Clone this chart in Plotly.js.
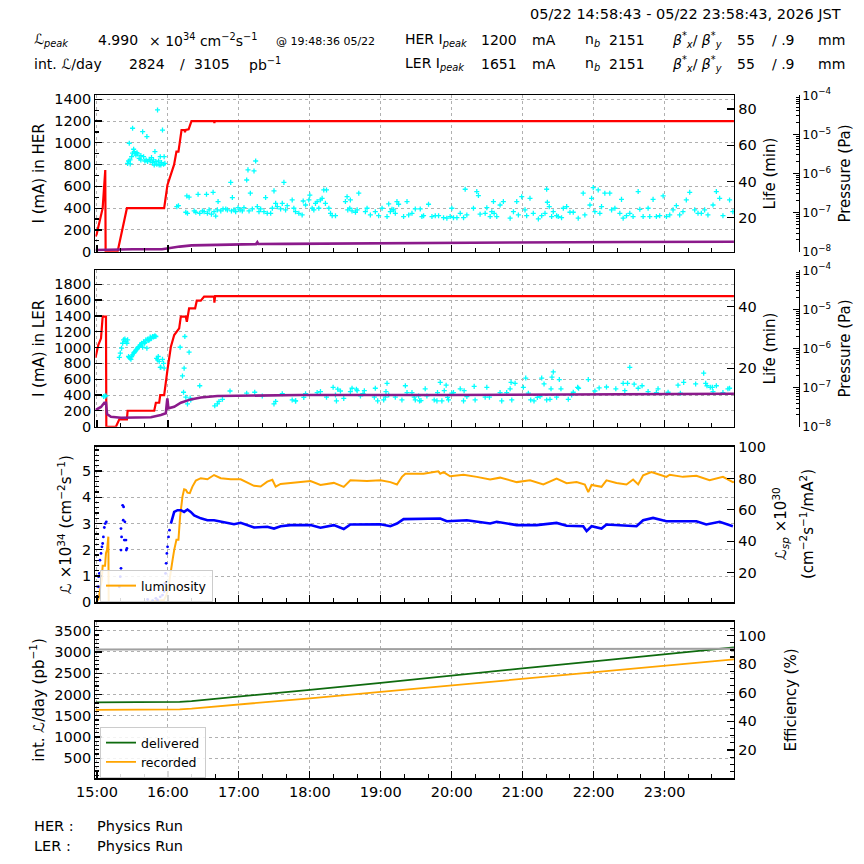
<!DOCTYPE html>
<html>
<head>
<meta charset="utf-8">
<script src="https://cdn.plot.ly/plotly-3.0.1.min.js"></script>
<style>
  html, body { margin: 0; padding: 0; background: #fff; }
  #chart { width: 864px; height: 864px; }
</style>
</head>
<body>
<div id="chart"></div>
<script>
// ---- data: [minutes after 15:00, value] ----
const herCurrent = [[-1.3,140],[-0.3,160],[4.8,400],[7.0,750],[7.3,0],[17.4,0],[25.3,400],[40,401],[56.8,400],[59.6,613],[65.2,800],[67.2,920],[68.9,920],[71.5,1118],[74.0,1118],[74.4,1098],[75.0,1118],[77.5,1125],[79.9,1200],[99.0,1200],[99.3,1182],[99.6,1200],[200,1199],[300,1200],[400,1199],[538.7,1200]];

const herPressure = [[-1.3,1.10e-8],[10,1.12e-8],[30,1.15e-8],[55,1.15e-8],[62,1.25e-8],[70,1.35e-8],[80,1.45e-8],[100,1.50e-8],[120,1.55e-8],[134.5,1.56e-8],[135.6,1.75e-8],[136.5,1.57e-8],[160,1.58e-8],[250,1.66e-8],[350,1.72e-8],[450,1.77e-8],[538.7,1.80e-8]];

const herLife = [[25.9,50.0],[26.7,51.3],[27.3,61.1],[27.9,51.9],[28.1,49.7],[29.3,53.7],[30.1,69.4],[30.1,55.6],[31.0,57.8],[31.5,56.5],[32.1,55.6],[32.9,54.6],[33.8,55.9],[34.3,55.2],[35.7,52.8],[37.1,51.9],[37.1,54.3],[38.6,67.5],[39.4,53.7],[40.5,51.3],[41.6,51.9],[42.2,64.8],[42.8,51.0],[44.2,52.2],[45.0,51.3],[46.1,53.2],[47.0,50.4],[47.8,51.9],[48.4,49.1],[49.0,56.5],[49.8,51.0],[50.6,49.5],[51.2,79.5],[52.1,51.3],[52.6,49.1],[53.5,53.7],[54.0,49.1],[54.6,50.4],[55.4,68.4],[56.3,49.5],[56.8,53.7],[57.4,50.0],
[67.5,26.1],[68.9,26.6],[75.1,23.0],[76.0,32.0],[76.5,22.4],[77.9,31.3],[82.2,23.7],[83.6,23.0],[85.5,32.9],[86.9,22.4],[89.2,23.7],[90.6,23.3],[92.6,32.9],[93.4,22.4],[94.8,24.3],[96.8,21.9],[98.2,34.0],[99.0,23.3],[100.4,20.9],[101.8,24.3],[102.4,28.9],[104.7,23.7],[106.6,24.8],[108.9,24.8],[110.3,24.3],[113.1,39.5],[113.7,23.7],[114.5,31.1],[115.9,24.3],[117.3,23.3],[119.3,25.5],[121.0,24.3],[122.9,23.7],[124.3,25.5],[126.6,40.8],[127.7,46.4],[128.6,23.7],[129.7,33.5],[131.4,24.8],[132.8,45.8],[134.2,51.3],[135.6,26.1],[137.0,23.3],[138.4,24.8],[141.2,23.3],[142.6,31.1],[144.0,22.4],[146.9,22.4],[148.3,25.2],[149.7,34.8],[151.1,27.9],[152.5,26.1],[155.3,24.8],[156.7,27.9],[158.1,39.5],[159.5,24.3],[160.9,26.6],
[165.1,29.8],[166.5,25.2],[167.9,23.3],[170.7,22.4],[173.5,21.5],[174.4,29.2],[176.4,27.0],[179.2,29.8],[180.0,32.5],[182.0,25.2],[183.4,24.3],[184.8,27.9],[186.2,28.9],[187.6,25.2],[189.0,29.8],[190.4,30.7],[191.8,35.3],[194.1,35.3],[193.2,27.9],[196.1,25.2],[197.5,22.4],[198.9,21.1],[201.7,21.1],[210.1,28.9],[211.5,31.6],[212.1,24.3],[213.8,25.2],[214.3,29.8],[215.7,23.7],[218.6,23.0],[220.0,24.3],[221.4,33.5],[227.0,23.3],[228.4,25.2],[231.2,21.5],[235.4,23.3],[238.2,21.1],[241.1,25.2],[245.3,20.6],[246.7,27.6],[248.1,23.3],[249.5,24.6],[250.9,24.3],[252.3,22.4],[253.7,28.9],[255.1,27.4],[259.3,20.6],[262.2,28.9],[263.6,21.5],[266.4,22.4],[269.2,24.8],[273.4,24.8],[274.8,20.6],[276.2,21.1],[280.4,27.4],[283.3,20.6],[286.1,21.1],[288.9,21.1],[293.1,20.0],[295.9,19.7],[298.7,20.6],[300.1,25.2],[301.5,20.0],[304.4,20.0],[307.2,22.4],[310.0,20.0],[311.4,35.7],[312.8,21.5],[318.4,25.2],[321.2,34.4],[322.6,32.2],[324.0,21.9],[328.3,22.4],[329.7,25.5],[332.5,20.6],[333.9,23.3],[335.3,28.9],[335.9,22.4],[338.1,20.6],[340.9,27.0],[343.7,28.9],[349.4,19.7],[352.2,23.3],[355.0,28.9],[356.4,21.5],[359.2,31.6],[362.0,24.3],[363.4,21.1],[366.2,30.7],[369.0,22.4],[373.3,19.3],[376.1,21.1],[378.9,22.4],[380.3,35.7],[380.9,28.5],[382.5,26.1],[384.5,20.6],[385.9,23.3],[388.7,21.1],[390.1,20.6],[392.9,20.0],[394.4,25.2],[397.2,26.1],[400.0,23.0],[402.8,23.0],[407.0,19.7],[411.2,33.5],[412.6,21.5],[416.9,27.0],[418.3,30.7],[419.7,36.6],[421.1,23.3],[423.9,35.3],[425.3,22.4],[426.7,26.1],[429.5,33.5],[433.7,33.5],[435.2,24.3],[438.0,25.2],[442.2,22.4],[443.6,30.1],[445.0,19.7],[447.8,21.1],[450.6,22.4],[453.4,20.6],[457.7,34.4],[459.1,24.6],[461.9,20.6],[466.1,25.2],[467.5,20.6],[470.3,30.1],[473.1,20.6],[475.9,21.1],[478.8,32.0],[481.6,20.6],[484.4,21.5],[487.2,24.3],[490.0,26.6],[492.8,21.5],[495.6,23.3],[498.4,29.8],[501.3,34.0],[505.5,24.3],[508.3,22.4],[511.1,22.4],[513.9,24.3],[516.7,21.5],[521.0,27.0],[523.8,34.4],[526.6,30.7],[529.4,21.1],[535.0,29.8],[537.8,23.3]];

const lerCurrent = [[-1.3,870],[1.1,1033],[3.4,1117],[4.8,1390],[7.6,1390],[7.9,0],[16.0,0],[18.9,93],[25.3,93],[25.9,202],[48.4,202],[49.8,303],[52.6,303],[53.5,400],[56.8,400],[58.5,560],[59.6,717],[62.5,1011],[65.3,1159],[69.5,1243],[70.9,1390],[75.1,1390],[76.0,1327],[77.9,1496],[83.0,1496],[84.4,1593],[87.8,1593],[90.6,1645],[99.0,1645],[99.3,1567],[99.9,1650],[200,1651],[350,1650],[538.7,1650]];

const lerPressure = [[-1.3,2.67e-8],[3.4,3.2e-8],[6.2,4.1e-8],[7.6,4.1e-8],[8.5,2.1e-8],[11.8,1.8e-8],[20.3,1.7e-8],[45.6,1.75e-8],[54.0,1.99e-8],[58.2,2.2e-8],[59.5,5.3e-8],[59.8,2.95e-8],[60.4,2.95e-8],[65.3,3.24e-8],[70.9,4.1e-8],[79.3,5.0e-8],[87.8,5.6e-8],[101.8,6.1e-8],[115.9,6.2e-8],[172.2,6.45e-8],[300,6.5e-8],[420,6.8e-8],[538.7,6.95e-8]];

const lerLife = [[5.6,10.8],[6.8,11.0],[7.6,11.0],[18.9,23.5],[19.7,24.9],[20.8,26.5],[21.7,28.1],[22.5,29.2],[23.6,29.5],[24.5,28.6],[25.3,28.1],[25.9,29.2],[26.7,23.8],[27.3,23.5],[27.9,23.2],[28.7,22.9],[29.3,23.8],[30.1,24.3],[31.0,24.9],[31.5,25.1],[32.1,25.4],[32.9,25.9],[33.8,26.2],[34.3,26.5],[34.9,26.8],[35.7,27.0],[36.6,27.6],[37.1,27.6],[37.7,28.1],[38.6,26.8],[39.4,28.6],[40.0,28.1],[40.5,28.3],[41.4,29.2],[42.2,26.5],[42.8,29.4],[43.3,29.0],[44.2,29.2],[45.0,30.1],[45.6,29.6],[46.1,29.7],[47.0,30.3],[47.8,30.1],[48.4,30.3],[49.0,30.5],[49.8,30.3],[50.4,23.2],[51.2,22.7],[51.8,23.8],[52.6,22.2],[53.5,20.3],[54.0,20.3],[55.4,22.9],[56.3,21.6],[56.8,20.0],
[70.3,26.8],[72.3,17.5],[73.2,12.2],[73.7,20.0],[74.3,30.3],[75.1,10.6],[76.5,8.4],[77.9,25.2],[78.8,10.3],[79.3,9.7],[86.9,14.3],[99.6,7.8],[101.8,8.4],[103.2,9.2],[106.1,9.9],[112.5,12.6],[126.6,11.9],[133.4,12.2],[139.8,11.0],[149.7,8.4],[151.1,9.2],[156.7,11.7],[165.1,9.7],[168.0,9.4],
[167.9,9.4],[174.9,10.5],[176.4,11.7],[186.2,12.1],[189.0,12.4],[194.1,10.6],[199.7,13.8],[201.7,11.3],[202.5,9.4],[203.6,13.2],[205.9,12.6],[208.7,10.2],[214.3,12.4],[215.7,13.5],[219.4,13.2],[220.0,12.7],[222.8,11.0],[225.0,11.7],[226.1,12.7],[234.6,10.6],[235.4,13.5],[237.4,9.4],[242.5,9.7],[243.9,10.6],[244.4,12.4],[245.3,15.1],[246.7,11.3],[252.3,10.6],[257.9,9.7],[260.8,14.3],[262.2,12.1],[266.4,12.1],[268.3,10.6],[269.2,9.7],[272.0,11.0],[272.8,9.4],[274.0,9.5],[277.6,13.3],[279.0,11.0],[285.2,9.7],[287.5,9.4],[288.0,12.1],[290.3,15.4],[291.7,9.4],[293.7,12.7],[295.3,14.5],[296.5,10.5],[297.3,9.7],[300.1,11.9],[301.5,12.1],[307.2,13.3],[310.0,9.4],[310.5,12.7],[312.8,10.8],[319.0,14.1],[319.8,9.7],[328.3,10.6],[329.7,13.8],[331.9,10.6],[340.9,12.1],[342.3,9.4],[346.5,12.1],[349.4,13.3],[350.2,15.4],[350.8,9.7],[353.6,15.1],[360.6,13.8],[362.6,16.8],[364.8,11.9],[366.8,9.7],[369.6,9.4],[372.4,10.5],[374.7,10.8],[376.1,16.8],[378.1,14.9],[380.3,9.7],[383.1,9.9],[384.0,13.3],[384.8,17.1],[385.9,18.8],[388.7,10.6],[391.0,16.3],[392.4,13.3],[398.6,9.9],[401.4,11.3],[402.8,12.2],[406.5,13.8],[407.3,13.5],[415.5,16.3],[421.1,12.6],[424.7,13.6],[430.9,13.9],[438.8,13.3],[445.0,15.1],[446.4,12.7],[448.7,15.1],[450.6,20.3],[454.3,14.8],[457.7,13.5],[461.0,14.3],[466.1,12.4],[473.1,12.1],[474.5,13.3],[483.0,12.2],[491.4,14.5],[493.4,11.9],[496.2,15.4],[506.3,14.9],[513.1,18.4],[514.8,15.1],[515.9,14.3],[518.7,13.8],[520.4,13.8],[521.0,12.4],[523.8,14.3],[529.4,12.1],[533.6,13.3],[535.0,13.5]];

const luminosity = [[-1.3,0.0],[-0.3,0.02],[1.4,0.15],[2.8,0.53],[4.0,0.85],[4.8,1.39],[6.8,1.39],[7.6,1.87],[8.5,2.00],[9.6,2.50],[9.9,0.02],[20,0.0],[40,0.0],[56.8,0.09],[58.8,0.28],[60.5,0.60],[62.5,1.11],[63.9,1.61],[65.3,2.00],[67.2,2.38],[68.9,2.38],[70.3,3.27],[72.3,4.03],[73.7,4.31],[75.1,4.29],[76.5,4.18],[78.5,4.16],[80.7,4.41],[83.6,4.64],[87.8,4.73],[93.4,4.69],[99.0,4.85],[104.7,4.73],[113.1,4.69],[121.5,4.69],[127.2,4.57],[132.8,4.44],[138.4,4.41],[144.0,4.60],[148.3,4.67],[151.1,4.41],[155.3,4.51],[163.7,4.54],[180.6,4.62],[189.0,4.47],[200.3,4.55],[208.7,4.40],[214.3,4.65],[228.4,4.62],[239.7,4.65],[248.1,4.58],[253.7,4.49],[257.9,4.78],[260.8,4.90],[276.2,4.90],[288.6,4.99],[290.3,4.90],[293.1,4.96],[298.7,4.80],[310.0,4.86],[321.2,4.78],[332.5,4.68],[340.9,4.75],[355.0,4.58],[366.2,4.65],[377.5,4.49],[388.7,4.71],[397.2,4.54],[405.6,4.58],[412.6,4.49],[415.5,4.20],[418.3,4.47],[426.7,4.40],[430.9,4.65],[439.4,4.55],[447.8,4.49],[453.4,4.68],[457.7,4.49],[461.9,4.84],[468.9,4.96],[476.0,4.86],[481.6,4.78],[484.4,4.86],[495.6,4.78],[506.9,4.82],[513.9,4.71],[518.1,4.65],[529.4,4.78],[537.8,4.58],[538.7,4.60]];

// specific luminosity (right axis, x1e30): sparse injection-period readings and the stored-beam trend
const specLumiSparse = [[0.6,4.7],[1.1,11.1],[1.4,17.5],[2.0,19.6],[2.5,28.0],[3.4,32.3],[4.2,36.5],[4.8,38.6],[5.4,42.8],[6.2,48.8],[7.0,51.3],[7.9,52.4],[18.9,11.1],[19.7,17.5],[20.3,22.8],[20.3,34.4],[20.8,42.8],[21.7,62.9],[22.5,61.9],[22.2,53.4],[23.6,52.4],[23.1,40.8],[24.5,40.8],[24.8,34.4],[25.3,35.5],[20.3,48.1],[42.8,3.0],[47.0,2.2],[49.8,3.7],[51.2,2.7],[53.5,4.7],[55.4,5.8],[56.8,8.0],[57.4,13.2],[58.0,19.6],[58.5,26.0],[59.1,32.3],[59.7,36.5],[60.5,42.8],[61.3,47.1]];
const specLumi = [[62.5,51.3],[63.9,54.6],[65.3,58.7],[68.1,59.8],[70.9,59.8],[73.7,58.7],[76.5,60.2],[79.3,58.7],[82.2,56.5],[87.8,54.6],[93.4,53.4],[99.0,53.4],[104.7,52.4],[115.9,50.9],[121.5,51.8],[132.8,48.8],[144.0,49.3],[149.7,48.1],[155.3,49.6],[163.7,50.3],[180.6,50.3],[189.0,48.6],[200.3,50.3],[208.7,47.8],[214.3,50.7],[239.7,50.9],[248.1,49.6],[253.7,51.3],[259.3,54.1],[276.2,54.1],[290.3,54.5],[295.9,52.8],[312.8,53.4],[332.5,51.3],[338.1,52.4],[355.0,50.3],[371.9,50.3],[388.7,51.7],[397.2,49.9],[411.2,49.6],[414.1,46.5],[418.3,49.6],[426.7,48.1],[430.9,50.7],[445.0,50.3],[456.3,49.6],[461.9,53.4],[470.3,54.9],[481.6,52.8],[495.6,52.8],[506.9,52.8],[515.3,50.7],[526.6,52.4],[537.8,49.6]];

const delivered = [[-1.3,1815],[60,1815],[65,1818],[70,1826],[80,1845],[120,1945],[180,2110],[240,2275],[300,2450],[360,2615],[420,2780],[480,2945],[538.7,3105]];
const recorded  = [[-1.3,1640],[60,1640],[65,1643],[70,1650],[80,1667],[120,1760],[180,1910],[240,2060],[300,2215],[360,2370],[420,2520],[480,2670],[538.7,2824]];
const efficiency = [[-1.3,90.4],[120,90.4],[300,90.5],[420,90.7],[538.7,90.9]];

const bunches = 2151;
const betaX = '55', betaY = '.9';
const runModes = [['HER :', 'Physics Run'], ['LER :', 'Physics Run']];
const hourLabels = ['15:00','16:00','17:00','18:00','19:00','20:00','21:00','22:00','23:00'];

// ---- helpers ----
const FONT = 'DejaVu Sans';
const base = Date.UTC(2026, 4, 22, 15, 0, 0);
const stamp = m => new Date(base + Math.round(m * 60000)).toISOString().replace('T', ' ').slice(0, 19);
const xs = s => s.map(p => stamp(p[0]));
const ys = s => s.map(p => p[1]);
const tStart = -77 / 60, tEnd = 540 - 77 / 60;

const XDOM = [0.1105, 0.8495];
const D1 = [0.7087, 0.8897], D2 = [0.5061, 0.6872], D3 = [0.3029, 0.4830], D4 = [0.0992, 0.2805];
const PPOS = 799.3 / 864;
const GRID = { showgrid: true, gridcolor: '#b0b0b0', griddash: 'dot', gridwidth: 1 };
const TF = { family: FONT, size: 14.5, color: '#000' };
const TITLEF = { family: FONT, size: 15, color: '#000' };

function xAxis(anchor, labels) {
  return Object.assign({
    type: 'date', domain: XDOM, anchor: anchor,
    range: [stamp(tStart), stamp(tEnd)],
    tickmode: 'array', tickvals: hourLabels.map((h, i) => stamp(i * 60)), ticktext: hourLabels,
    showticklabels: labels, tickfont: TF,
    ticks: 'inside', ticklen: 7, tickwidth: 1.2, tickcolor: '#000',
    minor: { dtick: 1200000, tick0: stamp(0), ticks: 'inside', ticklen: 4, tickwidth: 1, tickcolor: '#000', showgrid: false },
    showline: true, mirror: true, linecolor: '#000', linewidth: 1.4, zeroline: false
  }, GRID);
}
function leftAxis(domain, range, dtick, title, minorDtick, anchor) {
  const a = Object.assign({
    domain: domain, range: range, anchor: anchor, dtick: dtick, tick0: 0,
    ticks: 'inside', ticklen: 7, tickwidth: 1.2, tickcolor: '#000', tickfont: TF,
    showline: true, linecolor: '#000', linewidth: 1.4, zeroline: false,
    title: { text: title, font: TITLEF, standoff: 6 }
  }, GRID);
  if (minorDtick) a.minor = { dtick: minorDtick, ticks: 'inside', ticklen: 4, tickcolor: '#000', showgrid: false };
  return a;
}
function rightAxis(over, anchor, range, dtick, title, minorDtick, standoff) {
  const a = {
    overlaying: over, anchor: anchor, side: 'right', range: range, dtick: dtick, tick0: 0,
    ticks: 'inside', ticklen: 7, tickwidth: 1.2, tickcolor: '#000', tickfont: TF,
    showline: true, linecolor: '#000', linewidth: 1.4, zeroline: false, showgrid: false,
    title: { text: title, font: TITLEF, standoff: standoff || 8 }
  };
  if (minorDtick) a.minor = { dtick: minorDtick, ticks: 'inside', ticklen: 4, tickcolor: '#000', showgrid: false };
  return a;
}
function pressureAxis(over) {
  return {
    overlaying: over, anchor: 'free', position: PPOS, side: 'right', type: 'log',
    range: [-8, -4], dtick: 1, exponentformat: 'power',
    ticks: 'inside', ticklen: 6, tickwidth: 1, tickcolor: '#000',
    minor: { dtick: 'D1', ticks: 'inside', ticklen: 3, tickcolor: '#000', showgrid: false },
    tickfont: { family: FONT, size: 10, color: '#000' },
    showline: true, linecolor: '#000', linewidth: 1, zeroline: false, showgrid: false,
    title: { text: 'Pressure (Pa)', font: TITLEF, standoff: 8 }
  };
}

const cyanMarker = { symbol: 'cross-thin-open', size: 3.6, color: '#00ffff', line: { color: '#00ffff', width: 1.3 } };

const traces = [
  // HER
  { x: xs(herCurrent), y: ys(herCurrent), xaxis: 'x', yaxis: 'y', mode: 'lines', line: { color: '#ff0000', width: 2.2 }, showlegend: false },
  { x: xs(herLife), y: ys(herLife), xaxis: 'x', yaxis: 'y2', mode: 'markers', marker: cyanMarker, showlegend: false },
  { x: xs(herPressure), y: ys(herPressure), xaxis: 'x', yaxis: 'y3', mode: 'lines', line: { color: '#8b1a8b', width: 2.6 }, showlegend: false },
  // LER
  { x: xs(lerCurrent), y: ys(lerCurrent), xaxis: 'x2', yaxis: 'y4', mode: 'lines', line: { color: '#ff0000', width: 2.2 }, showlegend: false },
  { x: xs(lerLife), y: ys(lerLife), xaxis: 'x2', yaxis: 'y5', mode: 'markers', marker: cyanMarker, showlegend: false },
  { x: xs(lerPressure), y: ys(lerPressure), xaxis: 'x2', yaxis: 'y6', mode: 'lines', line: { color: '#8b1a8b', width: 2.6 }, showlegend: false },
  // luminosity
  { x: xs(luminosity), y: ys(luminosity), xaxis: 'x3', yaxis: 'y7', mode: 'lines', line: { color: '#ffa500', width: 2 }, name: 'luminosity', legend: 'legend' },
  { x: xs(specLumiSparse), y: ys(specLumiSparse), xaxis: 'x3', yaxis: 'y8', mode: 'markers', marker: { color: '#0000ff', size: 2.8 }, showlegend: false },
  { x: xs(specLumi), y: ys(specLumi), xaxis: 'x3', yaxis: 'y8', mode: 'lines', line: { color: '#0000ff', width: 2.6 }, showlegend: false },
  // integrated
  { x: xs(delivered), y: ys(delivered), xaxis: 'x4', yaxis: 'y9', mode: 'lines', line: { color: '#0f6b0f', width: 1.8 }, name: 'delivered', legend: 'legend2' },
  { x: xs(recorded), y: ys(recorded), xaxis: 'x4', yaxis: 'y9', mode: 'lines', line: { color: '#ffa500', width: 1.8 }, name: 'recorded', legend: 'legend2' },
  { x: xs(efficiency), y: ys(efficiency), xaxis: 'x4', yaxis: 'y10', mode: 'lines', line: { color: '#a0a0a0', width: 2 }, showlegend: false }
];

// ---- header figures taken from the series ----
const peakPt = luminosity.reduce((a, b) => (b[1] > a[1] ? b : a));
const peakStamp = stamp(peakPt[0]);
const peakLumi = peakPt[1].toFixed(3);
const peakWhen = peakStamp.slice(11, 19) + ' ' + peakStamp.slice(5, 7) + '/' + peakStamp.slice(8, 10);
const herPeak = Math.max(...ys(herCurrent));
const lerPeak = Math.max(...ys(lerCurrent));
const intRec = Math.round(recorded[recorded.length - 1][1]);
const intDel = Math.round(delivered[delivered.length - 1][1]);
const rangeText = '05/22 ' + stamp(tStart).slice(11, 19) + ' - 05/22 ' + stamp(tEnd).slice(11, 19) + ', 2026 JST';

const HF = { family: FONT, size: 14, color: '#000' };
function txt(xpx, ypx, text, size, anchor, angle) {
  const a = { xref: 'paper', yref: 'paper', x: xpx / 864, y: 1 - ypx / 864, xanchor: anchor || 'left', yanchor: 'middle',
           text: text, showarrow: false, font: Object.assign({}, HF, size ? { size: size } : {}) };
  if (angle !== undefined) { a.textangle = angle; a.xanchor = 'center'; }
  return a;
}
const beta = '<i>β</i><sup>*</sup><sub><i>x</i></sub>/ <i>β</i><sup>*</sup><sub><i>y</i></sub>';
const annotations = [
  txt(843, 14, rangeText, 14.5, 'right'),
  txt(32, 40, '<i>ℒ<sub>peak</sub></i>'),
  txt(96, 40, peakLumi),
  txt(147, 40, '× 10<sup>34</sup> cm<sup>−2</sup>s<sup>−1</sup>'),
  txt(274, 41, '@ ' + peakWhen, 11),
  txt(403, 40, 'HER I<sub><i>peak</i></sub>'),
  txt(479, 40, String(herPeak)),
  txt(530, 40, 'mA'),
  txt(583, 40, 'n<sub><i>b</i></sub>'),
  txt(607, 40, String(bunches)),
  txt(670, 40, beta),
  txt(735, 40, betaX),
  txt(770, 40, '/ ' + betaY),
  txt(816, 40, 'mm'),
  txt(32, 64, 'int. <i>ℒ</i>/day'),
  txt(127, 64, String(intRec)),
  txt(178, 64, '/'),
  txt(192, 64, String(intDel)),
  txt(247, 64, 'pb<sup>−1</sup>'),
  txt(403, 64, 'LER I<sub><i>peak</i></sub>'),
  txt(479, 64, String(lerPeak)),
  txt(530, 64, 'mA'),
  txt(583, 64, 'n<sub><i>b</i></sub>'),
  txt(607, 64, String(bunches)),
  txt(670, 64, beta),
  txt(735, 64, betaX),
  txt(770, 64, '/ ' + betaY),
  txt(816, 64, 'mm'),
  // two-line title of the specific-luminosity axis
  txt(780, 524, '<i>ℒ<sub>sp</sub></i> ×10<sup>30</sup>', 15, 'center', -90),
  txt(807, 524, '(cm<sup>−2</sup>s<sup>−1</sup>/mA<sup>2</sup>)', 15, 'center', -90),
  txt(32, 826, runModes[0][0], 14.5), txt(95, 826, runModes[0][1], 14.5),
  txt(32, 846, runModes[1][0], 14.5), txt(95, 846, runModes[1][1], 14.5)
];

const legendStyle = { bgcolor: 'rgba(255,255,255,0.85)', bordercolor: '#cccccc', borderwidth: 1,
                      font: { family: FONT, size: 12.5, color: '#000' }, xanchor: 'left', yanchor: 'top',
                      itemwidth: 30, tracegroupgap: 0 };

const layout = {
  width: 864, height: 864, margin: { l: 0, r: 0, t: 0, b: 0 },
  paper_bgcolor: '#fff', plot_bgcolor: '#fff',
  font: { family: FONT, color: '#000' },
  showlegend: true,
  legend: Object.assign({ x: 100 / 864, y: 1 - 570 / 864 }, legendStyle),
  legend2: Object.assign({ x: 100 / 864, y: 1 - 727 / 864 }, legendStyle),
  xaxis: xAxis('y', false),
  xaxis2: Object.assign(xAxis('y4', false), { matches: 'x' }),
  xaxis3: Object.assign(xAxis('y7', false), { matches: 'x' }),
  xaxis4: Object.assign(xAxis('y9', true), { matches: 'x' }),
  yaxis: leftAxis(D1, [0, 1437], 200, 'I (mA) in HER', 100, 'x'),
  yaxis2: rightAxis('y', 'x', [1.2, 87.6], 20, 'Life (min)'),
  yaxis3: pressureAxis('y'),
  yaxis4: leftAxis(D2, [0, 1977], 200, 'I (mA) in LER', null, 'x2'),
  yaxis5: rightAxis('y4', 'x2', [1.0, 51.8], 20, 'Life (min)'),
  yaxis6: pressureAxis('y4'),
  yaxis7: leftAxis(D3, [0, 5.93], 1, '<i>ℒ</i> ×10<sup>34</sup> (cm<sup>−2</sup>s<sup>−1</sup>)', 0.2, 'x3'),
  yaxis8: rightAxis('y7', 'x3', [1.2, 100.2], 20, ''),
  yaxis9: leftAxis(D4, [30, 3712], 500, 'int. <i>ℒ</i>/day (pb<sup>−1</sup>)', 100, 'x4'),
  yaxis10: rightAxis('y9', 'x4', [0.2, 109.8], 20, 'Efficiency (%)', 5, 20),
  annotations: annotations
};

Plotly.newPlot('chart', traces, layout, { staticPlot: true, displayModeBar: false });
</script>
</body>
</html>
